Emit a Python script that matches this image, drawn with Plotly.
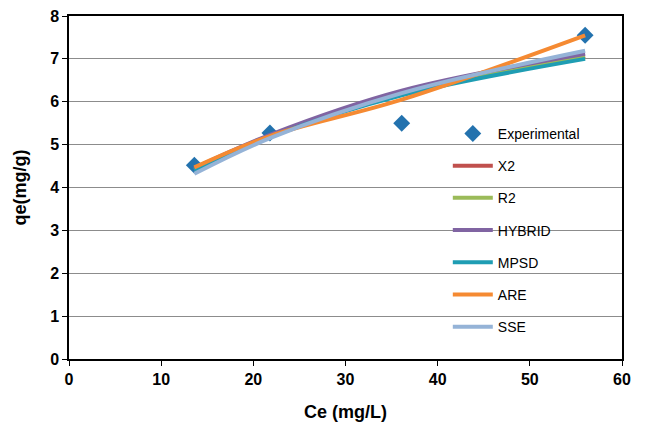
import plotly.graph_objects as go

ce_exp = [13.6, 21.8, 36.1, 56.0]
qe_exp = [4.52, 5.27, 5.50, 7.55]

series_names = ["X2", "R2", "HYBRID", "MPSD", "ARE", "SSE"]
qe_x2 = [4.42, 5.20, 6.20, 7.06]
qe_r2 = [4.42, 5.20, 6.18, 7.04]
qe_hybrid = [4.45, 5.23, 6.26, 7.12]
qe_mpsd = [4.40, 5.18, 6.15, 7.00]
qe_are = [4.47, 5.20, 6.05, 7.55]
qe_sse = [4.32, 5.15, 6.20, 7.19]
series_values = [qe_x2, qe_r2, qe_hybrid, qe_mpsd, qe_are, qe_sse]
series_colors = ["#C0504D", "#9BBB59", "#8064A2", "#1F9DB3", "#F58A32", "#95B3D7"]

x_ticks = [0, 10, 20, 30, 40, 50, 60]
y_ticks = [0, 1, 2, 3, 4, 5, 6, 7, 8]

fig = go.Figure()
fig.add_trace(go.Scatter(
    x=ce_exp, y=qe_exp, mode="markers", name="Experimental",
    marker=dict(symbol="diamond", size=13, color="#2372AE"),
    legendgroup="exp",
))
for name, vals, col in zip(series_names, series_values, series_colors):
    fig.add_trace(go.Scatter(
        x=ce_exp, y=vals, mode="lines", name=name,
        line=dict(color=col, width=4, shape="spline", smoothing=1.0),
        legendgroup=name,
    ))

axis_font = dict(family="Liberation Sans, Arial", size=16, color="black")
title_font = dict(family="Liberation Sans, Arial", size=18, color="black")
fig.update_layout(
    width=645, height=427,
    margin=dict(l=69, r=23, t=16, b=68),
    paper_bgcolor="white", plot_bgcolor="white",
    showlegend=True,
    legend=dict(
        x=0.685, y=0.703, xanchor="left", yanchor="top",
        bgcolor="rgba(0,0,0,0)", borderwidth=0,
        font=dict(family="Liberation Sans, Arial", size=14, color="black"),
        tracegroupgap=11, itemwidth=40,
    ),
    font=dict(family="Liberation Sans, Arial", color="black"),
)
fig.update_xaxes(
    range=[0, 60], tickvals=x_ticks, ticktext=[f"<b>{v}</b>" for v in x_ticks],
    showgrid=False, zeroline=False, automargin=False,
    showline=True, linecolor="black", linewidth=1.5, mirror=True,
    ticks="outside", ticklen=5, tickcolor="black",
    tickfont=axis_font,
    title=dict(text="<b>Ce (mg/L)</b>", font=title_font, standoff=18),
)
fig.update_yaxes(
    range=[0, 8], tickvals=y_ticks, ticktext=[f"<b>{v}</b>" for v in y_ticks],
    showgrid=True, gridcolor="#8C8C8C", gridwidth=1, zeroline=False, automargin=False,
    showline=True, linecolor="black", linewidth=1.5, mirror=True,
    ticks="outside", ticklen=5, tickcolor="black",
    tickfont=axis_font,
    title=dict(text="<b>qe(mg/g)</b>", font=title_font, standoff=19),
)

fig.write_html("out.html", config={"displayModeBar": False},
               post_script="document.body.style.margin='0';")
